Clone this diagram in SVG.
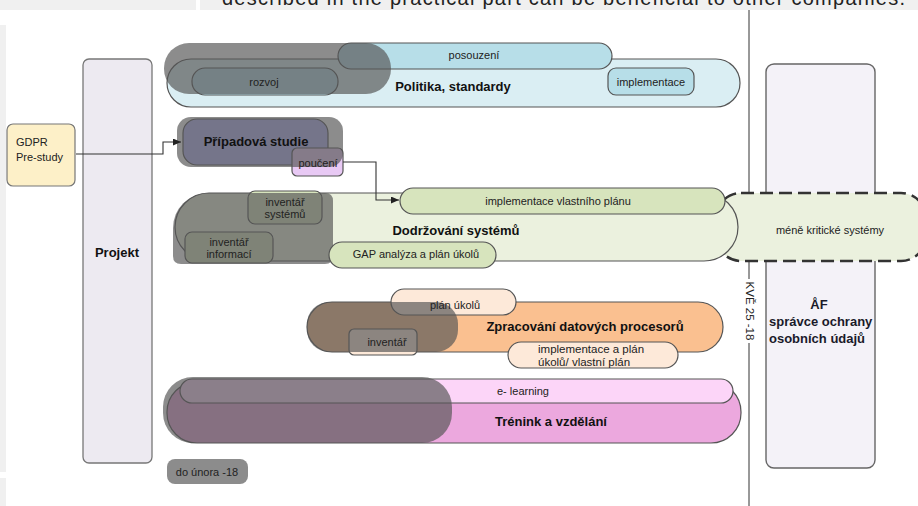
<svg xmlns="http://www.w3.org/2000/svg" width="918" height="506" viewBox="0 0 918 506">
<defs>
<style>
text{font-family:"Liberation Sans",Arial,sans-serif;fill:#222}
.lbl{font-size:11px;text-anchor:middle}
.big{font-size:13px;font-weight:bold;text-anchor:middle;fill:#111}
.ln{fill:none;stroke:#555;stroke-width:1.2}
.ov{fill:#555;fill-opacity:0.68;stroke:none}
.con{fill:none;stroke:#333;stroke-width:1.1}
.af{font-size:13px;font-weight:bold;fill:#1a1a2a}
</style>
<marker id="ah" markerUnits="userSpaceOnUse" markerWidth="9" markerHeight="8" refX="8" refY="3.5" orient="auto">
<path d="M0,0 L8,3.5 L0,7 z" fill="#222"/>
</marker>
</defs>
<rect x="0" y="0" width="918" height="506" fill="#ffffff"/>
<g id="page-edge">
<rect x="0" y="0" width="196" height="10" fill="#f0f0f0"/>
<rect x="200" y="0" width="718" height="10" fill="#f0f0f0"/>
<text x="222" y="5" font-size="20" textLength="683" fill="#333">described in the practical part can be beneficial to other companies.</text>
<rect x="0" y="10" width="918" height="3" fill="#ffffff"/>
<rect x="0" y="25" width="6" height="447" fill="#f0f0f0"/>
<rect x="0" y="478" width="6" height="28" fill="#f0f0f0"/>
</g>
<g id="timeline">
<line x1="749" y1="10" x2="749" y2="279" stroke="#333" stroke-width="1"/>
<line x1="749" y1="343" x2="749" y2="506" stroke="#333" stroke-width="1"/>
<text x="750" y="311" font-size="11.5" text-anchor="middle" dominant-baseline="central" transform="rotate(90 750 311)">KVĚ 25 -18</text>
</g>
<g id="projekt">
<rect x="83" y="59" width="69" height="404" rx="6" fill="#edeaf1" stroke="#777" stroke-width="1.3"/>
<text class="big" x="117" y="257">Projekt</text>
</g>
<g id="gdpr">
<rect x="7" y="124" width="68" height="62" rx="6" fill="#fdf0c8" stroke="#777" stroke-width="1.2"/>
<text x="16" y="146" font-size="11">GDPR</text>
<text x="16" y="161" font-size="11">Pre-study</text>
</g>
<g id="af">
<rect x="766" y="64" width="109" height="404" rx="8" fill="#f4f2f8" stroke="#666" stroke-width="1.4"/>
<text class="af" x="819" y="309" font-size="12" text-anchor="middle">ÅF</text>
<text class="af" x="769" y="326">správce ochrany</text>
<text class="af" x="769" y="343">osobních údajů</text>
</g>
<g id="mene-kriticke">
<rect x="716" y="193" width="210" height="68" rx="25" fill="#ebf1de" stroke="#333" stroke-width="2.5" stroke-dasharray="13 6"/>
<text class="lbl" x="830" y="234">méně kritické systémy</text>
</g>
<g id="politika">
<rect x="167" y="59" width="573" height="48" rx="24" style="fill:#daeef3" class="ln"/>
<rect x="338" y="43" width="274" height="26" rx="13" style="fill:#b7dee8" class="ln"/>
<rect x="192" y="68" width="146" height="27" rx="13" style="fill:#b7dee8" class="ln"/>
<rect x="608" y="68" width="86" height="27" rx="8" style="fill:#b7dee8" class="ln"/>
<rect x="164" y="43" width="227" height="51" rx="25" class="ov"/>
<text class="lbl" x="474" y="59" font-size="12">posouzení</text>
<text class="lbl" x="264" y="86">rozvoj</text>
<text class="lbl" x="651" y="86" font-size="11.5">implementace</text>
<text class="big" x="453" y="91">Politika, standardy</text>
</g>
<g id="pripadova">
<rect x="183" y="119" width="145" height="46" rx="14" style="fill:#b6b6f8" class="ln"/>
<rect x="292" y="148" width="51" height="28" rx="5" style="fill:#e8c9f4" class="ln"/>
<rect x="177" y="117" width="166" height="50" rx="14" class="ov"/>
<text class="big" x="256" y="146" font-size="13.5">Případová studie</text>
<text class="lbl" x="318" y="167" font-size="12">poučení</text>
</g>
<g id="dodrzovani">
<rect x="175" y="193" width="563" height="68" rx="34" style="fill:#ebf1de" class="ln"/>
<rect x="400" y="188" width="325" height="26" rx="13" style="fill:#d7e4bd" class="ln"/>
<rect x="248" y="191" width="74" height="33" rx="7" style="fill:#d7e4bd" class="ln"/>
<rect x="185" y="232" width="88" height="31" rx="7" style="fill:#d7e4bd" class="ln"/>
<path d="M173,228 A35,35 0 0 1 208,193 L325,193 Q333,193 333,201 L333,256 Q333,264 325,264 L181,264 Q173,264 173,256 Z" class="ov"/>
<rect x="329" y="242" width="167" height="26" rx="13" style="fill:#d7e4bd" class="ln"/>
<text class="lbl" x="558" y="205" font-size="11.5">implementace vlastního plánu</text>
<text class="lbl" x="285" y="206" font-size="11">inventář</text>
<text class="lbl" x="285" y="218" font-size="11">systémů</text>
<text class="lbl" x="229" y="246" font-size="11">inventář</text>
<text class="lbl" x="229" y="258" font-size="11">informací</text>
<text class="big" x="456" y="235">Dodržování systémů</text>
<text class="lbl" x="416" y="258">GAP analýza a plán úkolů</text>
</g>
<g id="zpracovani">
<rect x="307" y="302" width="416" height="50" rx="25" style="fill:#fac090" class="ln"/>
<rect x="391" y="289" width="125" height="26" rx="13" style="fill:#fde9d9" class="ln"/>
<rect x="349" y="329" width="68" height="26" rx="5" style="fill:#fde9d9" class="ln"/>
<rect x="307" y="302" width="151" height="50" rx="22" class="ov"/>
<rect x="508" y="342" width="170" height="26" rx="13" style="fill:#fde9d9" class="ln"/>
<text class="lbl" x="455" y="309" font-size="12">plán úkolů</text>
<text class="lbl" x="387" y="346" font-size="12">inventář</text>
<text class="big" x="585" y="331">Zpracování datových procesorů</text>
<text x="538" y="353" font-size="11.5">implementace a plán</text>
<text x="538" y="366" font-size="11.5">úkolů/ vlastní plán</text>
</g>
<g id="trenink">
<rect x="167" y="382" width="574" height="61" rx="30" style="fill:#eca8de" class="ln"/>
<rect x="180" y="379" width="553" height="24" rx="12" style="fill:#fcd5f8" class="ln"/>
<rect x="163" y="377" width="289" height="66" rx="30" class="ov"/>
<text class="lbl" x="523" y="395" font-size="10.5">e- learning</text>
<text class="big" x="551" y="426">Trénink a vzdělání</text>
</g>
<g id="do-unora">
<rect x="167" y="459" width="81" height="25" rx="8" fill="#8c8c8c"/>
<text class="lbl" x="207" y="476">do února -18</text>
</g>
<g id="connectors">
<path class="con" d="M76,154 H163 V142 H181" marker-end="url(#ah)"/>
<path class="con" d="M343,162 H376 V200 H399" marker-end="url(#ah)"/>
</g>
</svg>
